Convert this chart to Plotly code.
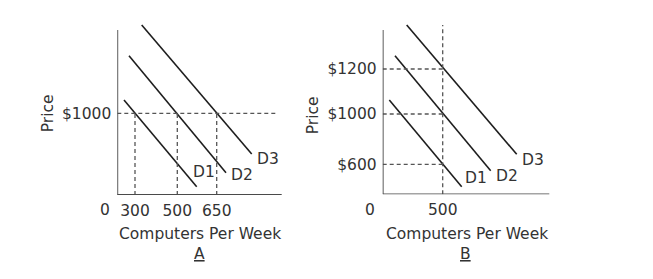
import plotly.graph_objects as go

# Diagram units (not to scale, as in the textbook figure)
# Panel A
A_qty_pos = [17.7, 60.0, 99.4]
A_qty_labels = ["300", "500", "650"]
A_price_pos = [81.7]
A_price_labels = ["$1000"]
A_curves = {
    "D1": ([6.7, 79.4], [95.0, 8.3]),
    "D2": ([11.7, 108.7], [139.3, 22.3]),
    "D3": ([24.4, 134.4], [170.0, 41.0]),
}
A_curve_label_pos = {"D1": (87.0, 22.7), "D2": (125.0, 20.5), "D3": (151.0, 36.0)}
A_axis_len = (164.4, 165.0)

# Panel B
B_qty_pos = [60.0]
B_qty_labels = ["500"]
B_price_pos = [125.3, 80.3, 30.0]
B_price_labels = ["$1200", "$1000", "$600"]
B_curves = {
    "D1": ([6.6, 79.0], [94.3, 7.6]),
    "D2": ([12.3, 108.0], [138.6, 23.6]),
    "D3": ([24.0, 134.0], [169.3, 40.0]),
}
B_curve_label_pos = {"D1": (93.0, 16.5), "D2": (124.5, 18.0), "D3": (150.0, 34.8)}
B_axis_len = (166.6, 164.3)
B_vline_top = 169.3

FONT = "DejaVu Sans"
TXT = "#333333"
LINE = "#1e1e1e"
AXIS = "#4a4a4a"
DASH = "#555555"
FS = 15.5

W, H = 653, 279
fig = go.Figure()

panels = [
    ("x", "y", A_curves, A_curve_label_pos),
    ("x2", "y2", B_curves, B_curve_label_pos),
]
for xa, ya, curves, lpos in panels:
    for name, (xs, ys) in curves.items():
        fig.add_trace(go.Scatter(x=xs, y=ys, mode="lines", xaxis=xa, yaxis=ya,
                                 line=dict(color=LINE, width=1.6), showlegend=False,
                                 hoverinfo="skip"))
        fig.add_annotation(x=lpos[name][0], y=lpos[name][1], xref=xa, yref=ya,
                           text=name, showarrow=False,
                           font=dict(family=FONT, size=FS, color=TXT))

shapes = []
def seg(xref, yref, x0, y0, x1, y1, dash=False):
    shapes.append(dict(type="line", xref=xref, yref=yref, x0=x0, y0=y0, x1=x1, y1=y1,
                       line=dict(color=DASH if dash else AXIS, width=1.3 if dash else 1.8,
                                 dash="4px,3px" if dash else "solid")))

# dashed A
for q in A_qty_pos:
    seg("x", "y", q, 0, q, A_price_pos[0], dash=True)
seg("x", "y", 0, A_price_pos[0], 161, A_price_pos[0], dash=True)
# axes A
seg("x", "y", 0, 0, A_axis_len[0], 0)
seg("x", "y", 0, 0, 0, A_axis_len[1])

# dashed B
seg("x2", "y2", B_qty_pos[0], 0, B_qty_pos[0], B_vline_top, dash=True)
for p in B_price_pos:
    seg("x2", "y2", 0, p, B_qty_pos[0], p, dash=True)
# axes B
seg("x2", "y2", 0, 0, B_axis_len[0], 0)
seg("x2", "y2", 0, 0, 0, B_axis_len[1])

fig.update_layout(shapes=shapes)

def txt(xa, ya, x, y, text, xshift=0, yshift=0, **kw):
    fig.add_annotation(x=x, y=y, xref=xa, yref=ya, text=text, showarrow=False,
                       xshift=xshift, yshift=yshift,
                       font=dict(family=FONT, size=FS, color=TXT), **kw)

# text annotations (shifts in px: 1 unit = 1 px)
txt("x", "y", 82.7, 0, "Computers Per Week", yshift=-39.0)
txt("x2", "y2", 84.0, 0, "Computers Per Week", yshift=-39.7)
txt("x", "y", 82.5, 0, "<u>A</u>", yshift=-59.0)
txt("x2", "y2", 82.8, 0, "<u>B</u>", yshift=-59.7)
txt("x", "y", 0, 82.0, "Price", xshift=-69.0, textangle=-90)
txt("x2", "y2", 0, 79.3, "Price", xshift=-69.4, textangle=-90)
txt("x", "y", 0, 0, "0", xshift=-5, yshift=-15, xanchor="right")
txt("x2", "y2", 0, 0, "0", xshift=-6, yshift=-15.7, xanchor="right")

axis_common = dict(showgrid=False, zeroline=False, showline=False, ticks="",
                   tickfont=dict(family=FONT, size=FS, color=TXT), fixedrange=True)
fig.update_layout(
    width=W, height=H, margin=dict(l=0, r=0, t=0, b=0),
    paper_bgcolor="white", plot_bgcolor="rgba(0,0,0,0)",
    xaxis=dict(domain=[117.3 / W, (117.3 + 170) / W], range=[0, 170],
               tickvals=A_qty_pos, ticktext=A_qty_labels, anchor="y",
               ticklabelstandoff=4, **axis_common),
    yaxis=dict(domain=[(H - 195) / H, (H - 195 + 175) / H], range=[0, 175],
               tickvals=A_price_pos, ticktext=A_price_labels, anchor="x",
               ticklabelstandoff=5, **axis_common),
    xaxis2=dict(domain=[382.7 / W, (382.7 + 170) / W], range=[0, 170],
                tickvals=B_qty_pos, ticktext=B_qty_labels, anchor="y2",
                ticklabelstandoff=4, **axis_common),
    yaxis2=dict(domain=[(H - 194.3) / H, (H - 194.3 + 175) / H], range=[0, 175],
                tickvals=B_price_pos, ticktext=B_price_labels, anchor="x2",
                ticklabelstandoff=5, **axis_common),
)

fig.write_html("out.html")
